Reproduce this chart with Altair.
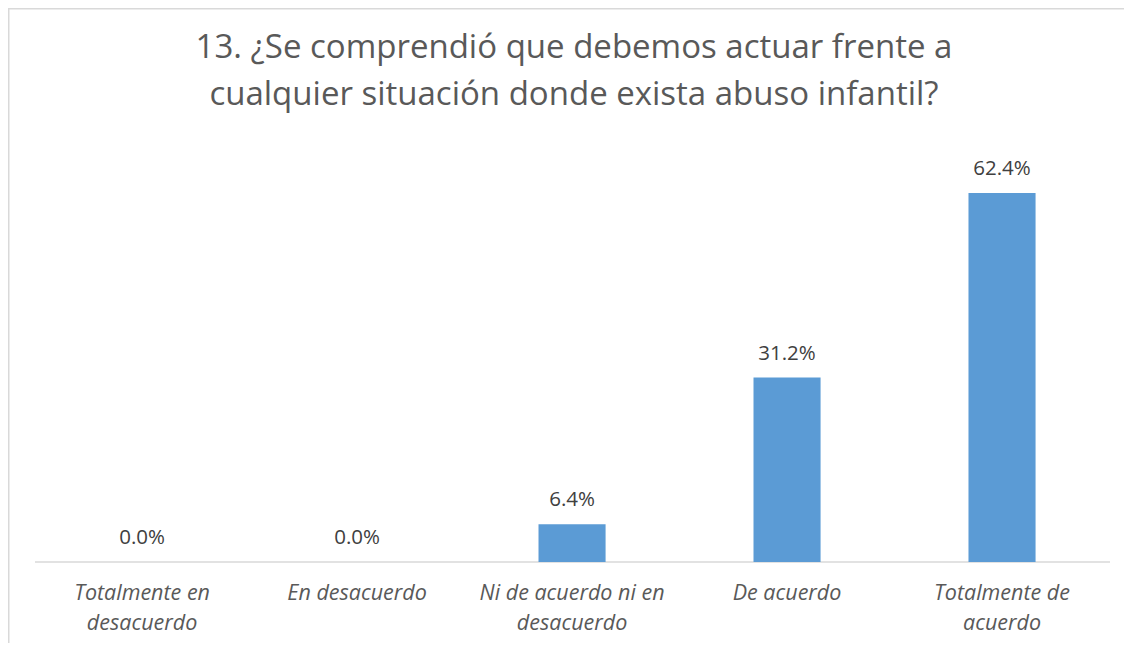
import json
import altair as alt
import pandas as pd

categories = [
    "Totalmente en desacuerdo",
    "En desacuerdo",
    "Ni de acuerdo ni en desacuerdo",
    "De acuerdo",
    "Totalmente de acuerdo",
]
values = [0.0, 0.0, 6.4, 31.2, 62.4]
label_lines = [
    ["Totalmente en", "desacuerdo"],
    ["En desacuerdo"],
    ["Ni de acuerdo ni en", "desacuerdo"],
    ["De acuerdo"],
    ["Totalmente de", "acuerdo"],
]
title_lines = [
    "13. ¿Se comprendió que debemos actuar frente a",
    "cualquier situación donde exista abuso infantil?",
]

df = pd.DataFrame({"cat": categories, "value": values})

expr = "datum.value"
for c, lines in zip(reversed(categories), reversed(label_lines)):
    expr = f"datum.value == {json.dumps(c)} ? {json.dumps(lines)} : ({expr})"

W, H = 1116, 635
FONT = "Open Sans"
GRAY = "#595959"
BORDER = "#D9D9D9"

x = alt.X(
    "cat:N",
    sort=categories,
    scale=alt.Scale(paddingInner=0.688, paddingOuter=0.4395, align=0.532),
    axis=alt.Axis(
        title=None,
        orient="bottom",
        offset=-81,
        domain=False,
        ticks=False,
        labelAngle=0,
        labelExpr=expr,
        labelFont=FONT,
        labelFontSize=21.5,
        labelFontStyle="italic",
        labelColor=GRAY,
        labelPadding=20,
        labelLineHeight=30,
        labelBaseline="top",
        labelLimit=0,
    ),
)
y_scale = alt.Scale(domain=[-13.70, 93.69], nice=False, zero=False)

base = alt.Chart(df)

bars = base.mark_bar(color="#5B9BD5").encode(
    x=x,
    y=alt.Y("value:Q", scale=y_scale, axis=None),
)

labels = base.transform_calculate(
    label="format(datum.value, '.1f') + '%'"
).mark_text(
    font=FONT, fontSize=20.5, color="#404040", dy=-18, baseline="alphabetic"
).encode(
    x=alt.X("cat:N", sort=categories),
    y=alt.Y("value:Q", scale=y_scale, axis=None),
    text="label:N",
)

axis_line = alt.Chart(pd.DataFrame({"zero": [0.0]})).mark_rule(
    color=BORDER, strokeWidth=1.5
).encode(
    y=alt.Y("zero:Q", scale=y_scale, axis=None),
    x=alt.value(27),
    x2=alt.value(1102),
)

# chart frame: only the top and left edges fall inside the window
frame_top = alt.Chart(pd.DataFrame({"k": [0]})).mark_rule(
    color=BORDER, strokeWidth=2
).encode(x=alt.value(0), x2=alt.value(W), y=alt.value(0.5))
frame_left = alt.Chart(pd.DataFrame({"k": [0]})).mark_rule(
    color=BORDER, strokeWidth=2
).encode(x=alt.value(0.5), y=alt.value(0), y2=alt.value(H))

chart = (
    alt.layer(frame_top, frame_left, axis_line, bars, labels)
    .properties(
        width=W,
        height=H,
        padding=0,
        autosize=alt.AutoSizeParams(type="none"),
        title=alt.TitleParams(
            text=title_lines,
            anchor="middle",
            orient="top",
            offset=0,
            baseline="top",
            dy=105,
            dx=8,
            font=FONT,
            fontSize=33,
            fontWeight="normal",
            color=GRAY,
            lineHeight=47,
        ),
    )
    .configure_view(stroke=None)
)

chart.save("out.html", embed_options={"renderer": "svg", "actions": False})
